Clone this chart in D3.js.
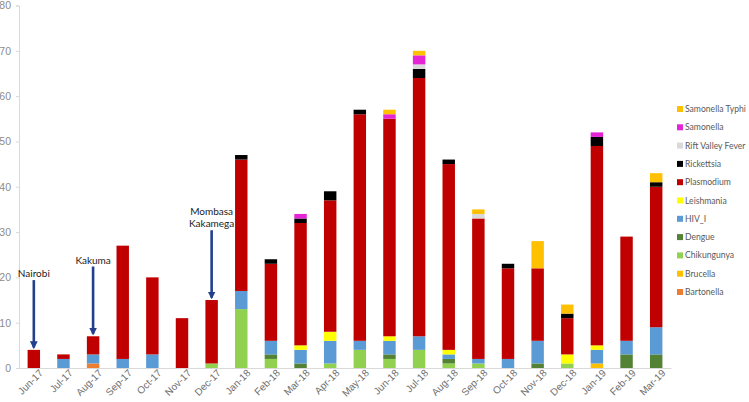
<!DOCTYPE html>
<html>
<head>
<meta charset="utf-8">
<script src="https://cdn.jsdelivr.net/npm/d3@7"></script>
<style>
  html, body { margin: 0; padding: 0; background: #fff; }
  svg { display: block; font-family: Lato, "Open Sans", sans-serif; }
</style>
</head>
<body>
<svg id="chart" width="749" height="402"></svg>
<script>
const categories = ["Jun-17","Jul-17","Aug-17","Sep-17","Oct-17","Nov-17","Dec-17","Jan-18","Feb-18","Mar-18","Apr-18","May-18","Jun-18","Jul-18","Aug-18","Sep-18","Oct-18","Nov-18","Dec-18","Jan-19","Feb-19","Mar-19"];
const seriesNames = ["Bartonella","Brucella","Chikungunya","Dengue","HIV_I","Leishmania","Plasmodium","Rickettsia","Rift Valley Fever","Samonella","Samonella Typhi"];
const seriesColors = ["#ED7D31","#FFC000","#92D050","#548235","#5B9BD5","#FFFF00","#C00000","#000000","#D9D9D9","#E524D6","#FFC000"];

const bartonella     = [0,0,1,0,0,0,0,0,0,0,0,0,0,0,0,0,0,0,0,0,0,0];
const brucella       = [0,0,0,0,0,0,0,0,0,0,0,0,0,0,0,0,0,0,0,1,0,0];
const chikungunya    = [0,0,0,0,0,0,1,13,2,0,1,4,2,4,1,1,0,0,1,0,0,0];
const dengue         = [0,0,0,0,0,0,0,0,1,1,0,0,1,0,1,0,0,1,0,0,3,3];
const hiv            = [0,2,2,2,3,0,0,4,3,3,5,2,3,3,1,1,2,5,0,3,3,6];
const leishmania     = [0,0,0,0,0,0,0,0,0,1,2,0,1,0,1,0,0,0,2,1,0,0];
const plasmodium     = [4,1,4,25,17,11,14,29,17,27,29,50,48,57,41,31,20,16,8,44,23,31];
const rickettsia     = [0,0,0,0,0,0,0,1,1,1,2,1,0,2,1,0,1,0,1,2,0,1];
const riftValley     = [0,0,0,0,0,0,0,0,0,0,0,0,0,1,0,1,0,0,0,0,0,0];
const samonella      = [0,0,0,0,0,0,0,0,0,1,0,0,1,2,0,0,0,0,0,1,0,0];
const samonellaTyphi = [0,0,0,0,0,0,0,0,0,0,0,0,1,1,0,1,0,6,2,0,0,2];

const yTicks = [0,10,20,30,40,50,60,70,80];

const annoLines = [["Nairobi"],["Kakuma"],["Mombasa","Kakamega"]];
const annoCats = ["Jun-17","Aug-17","Dec-17"];
const annoTargets = [4,7,15];

const seriesValues = [bartonella,brucella,chikungunya,dengue,hiv,leishmania,plasmodium,rickettsia,riftValley,samonella,samonellaTyphi];

const rows = categories.map((c,i) => {
  const r = {cat: c};
  seriesNames.forEach((s,j) => r[s] = seriesValues[j][i]);
  return r;
});
const stacked = d3.stack().keys(seriesNames)(rows);

const svg = d3.select("#chart");
const x = d3.scaleBand().domain(categories).range([19, 671]).paddingInner(0.58).paddingOuter(0.29);
const y = d3.scaleLinear().domain([0, 80]).range([368, 5.5]);
const color = d3.scaleOrdinal().domain(seriesNames).range(seriesColors);

// y axis
const yAxis = svg.append("g").attr("transform","translate(19,0)")
  .call(d3.axisLeft(y).tickValues(yTicks).tickSize(3).tickPadding(5));
yAxis.select(".domain").attr("stroke","#D9D9D9");
yAxis.selectAll(".tick line").attr("stroke","#D9D9D9");
yAxis.selectAll("text").attr("fill","#8C8C8C").style("font-size","10.5px");

// bars
svg.append("g").selectAll("g").data(stacked).join("g")
  .attr("fill", d => color(d.key))
  .selectAll("rect").data(d => d).join("rect")
  .attr("x", d => x(d.data.cat))
  .attr("width", x.bandwidth())
  .attr("y", d => y(d[1]))
  .attr("height", d => y(d[0]) - y(d[1]));

// x axis
const xAxis = svg.append("g").attr("transform","translate(0,368)")
  .call(d3.axisBottom(x).tickSize(0).tickPadding(6));
xAxis.select(".domain").attr("stroke","#D9D9D9");
xAxis.selectAll("text")
  .attr("fill","#6E6E6E").style("font-size","10px")
  .attr("text-anchor","end")
  .attr("dx","0.3em").attr("dy","0.5em")
  .attr("transform","rotate(-45)");

// annotations
const defs = svg.append("defs");
defs.append("marker").attr("id","ah").attr("viewBox","0 0 10 10")
  .attr("refX",8).attr("refY",5).attr("markerWidth",3).attr("markerHeight",3)
  .attr("orient","auto")
  .append("path").attr("d","M0,0 L10,5 L0,10 Z").attr("fill","#23408E");

annoCats.forEach((c,i) => {
  const cx = x(c) + x.bandwidth()/2;
  const v = annoTargets[i];
  svg.append("line")
    .attr("x1", cx).attr("x2", cx)
    .attr("y1", y(v + 15.4)).attr("y2", y(v + 0.5))
    .attr("stroke","#23408E").attr("stroke-width",2.6)
    .attr("marker-end","url(#ah)");
  const lines = annoLines[i];
  lines.forEach((t,k) => {
    const off = 16.8 + (lines.length - 1 - k) * 2.7;
    svg.append("text")
      .attr("x", cx).attr("y", y(v + off))
      .attr("dy","0.35em")
      .attr("text-anchor","middle")
      .attr("fill","#1a1a1a")
      .style("font-size","10px")
      .text(t);
  });
});

// legend
const legendOrder = seriesNames.slice().reverse();
const lg = svg.append("g").attr("transform","translate(677,109)");
legendOrder.forEach((s,i) => {
  const g = lg.append("g").attr("transform",`translate(0,${i*18.3})`);
  g.append("rect").attr("x",0).attr("y",-3).attr("width",6).attr("height",6).attr("fill",color(s));
  g.append("text").attr("x",8).attr("y",0).attr("dy","0.35em")
    .attr("fill","#595959").style("font-size","8.6px").text(s);
});
</script>
</body>
</html>
